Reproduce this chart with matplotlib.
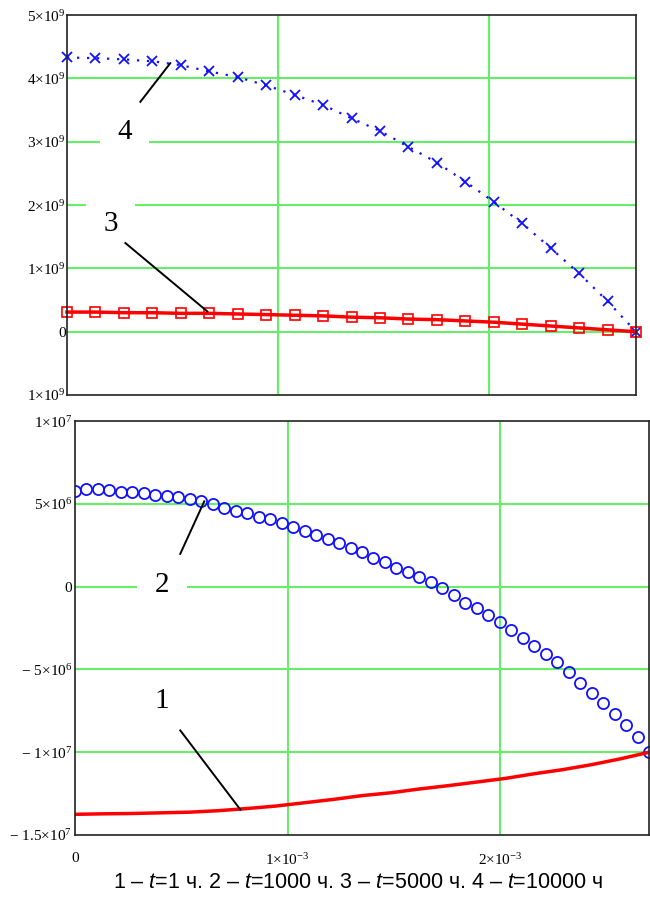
import numpy as np
import matplotlib
matplotlib.use("Agg")
from matplotlib import pyplot as plt

plt.rcParams.update({
    "font.family": "Liberation Serif",
    "mathtext.fontset": "custom",
    "mathtext.rm": "Liberation Serif",
    "mathtext.it": "Liberation Sans:italic",
    "mathtext.default": "rm",
})

# ---- data ----
X_MAX = 2.7e-3
x_coarse = np.linspace(0, X_MAX, 21)
x_fine = np.linspace(0, X_MAX, 51)

# curve 4, t = 10000 h (x1e9)
s4 = [4.33, 4.32, 4.30, 4.27, 4.21, 4.11, 4.02, 3.89, 3.74, 3.58, 3.37,
      3.17, 2.92, 2.67, 2.37, 2.05, 1.71, 1.32, 0.92, 0.48, 0.0]
# curve 3, t = 5000 h (x1e9)
s3 = [0.31, 0.31, 0.30, 0.30, 0.29, 0.29, 0.28, 0.27, 0.26, 0.25, 0.23,
      0.22, 0.20, 0.19, 0.17, 0.15, 0.12, 0.09, 0.06, 0.03, 0.0]
# curve 2, t = 1000 h (x1e6)
s2 = [5.75, 5.87, 5.87, 5.81, 5.69, 5.69, 5.63, 5.51, 5.45, 5.39, 5.27,
      5.15, 4.99, 4.76, 4.58, 4.46, 4.22, 4.10, 3.86, 3.61, 3.37, 3.13,
      2.89, 2.65, 2.35, 2.11, 1.75, 1.51, 1.14, 0.90, 0.60, 0.30, -0.06,
      -0.48, -0.96, -1.32, -1.74, -2.16, -2.63, -3.11, -3.59, -4.07, -4.55,
      -5.15, -5.81, -6.41, -7.01, -7.72, -8.38, -9.10, -10.0]
# curve 1, t = 1 h (x1e6)
s1 = [-13.75, -13.72, -13.70, -13.66, -13.62, -13.53, -13.40, -13.25,
      -13.05, -12.85, -12.62, -12.45, -12.22, -12.02, -11.80, -11.58,
      -11.30, -11.05, -10.75, -10.40, -10.0]

top_yticks = [-1e9, 0, 1e9, 2e9, 3e9, 4e9, 5e9]
top_ylabels = [r"$1{\times}10^{9}$", "0", r"$1{\times}10^{9}$", r"$2{\times}10^{9}$",
               r"$3{\times}10^{9}$", r"$4{\times}10^{9}$", r"$5{\times}10^{9}$"]
bot_yticks = [-1.5e7, -1e7, -5e6, 0, 5e6, 1e7]
bot_ylabels = [r"$-\ 1.5{\times}10^{7}$", r"$-\ 1{\times}10^{7}$", r"$-\ 5{\times}10^{6}$",
               "0", r"$5{\times}10^{6}$", r"$1{\times}10^{7}$"]
xticks = [0, 1e-3, 2e-3]
xlabels = ["0", r"$1{\times}10^{-3}$", r"$2{\times}10^{-3}$"]

caption = (r"1 – $\mathit{t}$=1 ч. 2 – $\mathit{t}$=1000 ч. "
           r"3 – $\mathit{t}$=5000 ч. 4 – $\mathit{t}$=10000 ч")

GRID = "#66ee66"
BLUE = "#1010ff"
RED = "#ff0000"

fig = plt.figure(figsize=(6.5, 8.97), dpi=100)
ax1 = fig.add_axes([0.1031, 0.5596, 0.8754, 0.4236])
ax2 = fig.add_axes([0.1154, 0.0691, 0.8831, 0.4615])

for ax in (ax1, ax2):
    ax.set_xlim(0, X_MAX)
    ax.set_xticks(xticks)
    ax.tick_params(length=0, labelsize=11)
    for sp in ax.spines.values():
        sp.set_color("#222222")
        sp.set_linewidth(1.2)
        sp.set_zorder(5)

# ---- top panel ----
ax1.set_ylim(-1e9, 5e9)
ax1.set_yticks(top_yticks)
ax1.set_yticklabels(top_ylabels)
ax1.set_xticklabels([])
ax1.tick_params(axis="y", pad=1)
for v in top_yticks[1:-1]:
    ax1.axhline(v, color=GRID, lw=1.5, zorder=1)
for v in xticks[1:]:
    ax1.axvline(v, color=GRID, lw=1.5, zorder=1)

ax1.plot(x_coarse, np.array(s4) * 1e9, color=BLUE, lw=1.6, ls=(0, (1, 3.5)),
         marker="x", ms=7, mew=1.3, zorder=3, clip_on=False)
ax1.plot(x_coarse, np.array(s3) * 1e9, color=RED, lw=2.5,
         marker="s", ms=6.5, mfc="none", mew=1.2, zorder=3, clip_on=False)

ax1.plot([0.348e-3, 0.490e-3], [3.63e9, 4.24e9], color="black", lw=1.4, zorder=4)
ax1.text(0.272e-3, 3.16e9, "4", fontsize=21, ha="center", va="center", zorder=2,
         bbox=dict(boxstyle="square,pad=0.6", fc="white", ec="none"))
ax1.plot([0.277e-3, 0.666e-3], [1.40e9, 0.32e9], color="black", lw=1.4, zorder=4)
ax1.text(0.206e-3, 1.70e9, "3", fontsize=21, ha="center", va="center", zorder=2,
         bbox=dict(boxstyle="square,pad=0.6", fc="white", ec="none"))

# ---- bottom panel ----
ax2.set_ylim(-1.5e7, 1e7)
ax2.set_yticks(bot_yticks)
ax2.set_yticklabels(bot_ylabels)
ax2.set_xticklabels(xlabels)
ax2.tick_params(axis="y", pad=2)
ax2.tick_params(axis="x", pad=12)
for v in bot_yticks[1:-1]:
    ax2.axhline(v, color=GRID, lw=1.5, zorder=1)
for v in xticks[1:]:
    ax2.axvline(v, color=GRID, lw=1.5, zorder=1)

ax2.plot(x_fine, np.array(s2) * 1e6, ls="none", marker="o", ms=8, mfc="none",
         mec=BLUE, mew=1.3, zorder=3)
ax2.plot(x_coarse, np.array(s1) * 1e6, color=RED, lw=2.5, zorder=3)

ax2.plot([0.495e-3, 0.608e-3], [1.98e6, 5.15e6], color="black", lw=1.4, zorder=4)
ax2.text(0.41e-3, 0.12e6, "2", fontsize=21, ha="center", va="center", zorder=2,
         bbox=dict(boxstyle="square,pad=0.6", fc="white", ec="none"))
ax2.plot([0.495e-3, 0.778e-3], [-8.68e6, -13.47e6], color="black", lw=1.4, zorder=4)
ax2.text(0.41e-3, -6.89e6, "1", fontsize=21, ha="center", va="center", zorder=2,
         bbox=dict(boxstyle="square,pad=0.6", fc="white", ec="none"))

fig.text(0.551, 0.004, caption, ha="center", va="bottom", fontsize=15.5,
         family="Liberation Sans")

fig.savefig("out.png", dpi=100)
